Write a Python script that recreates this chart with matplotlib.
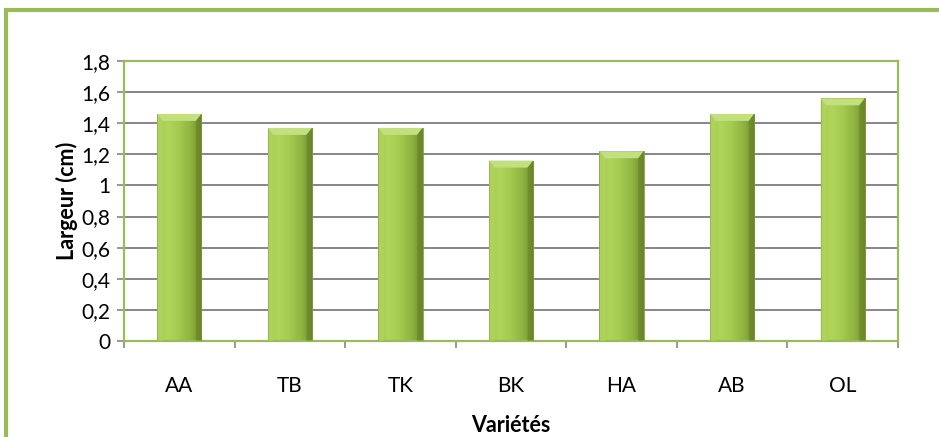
"""Bar chart of leaf width per variety, with bevelled green bars."""

import matplotlib

matplotlib.use("Agg")

import matplotlib.pyplot as plt
import numpy as np
from matplotlib.colors import LinearSegmentedColormap
from matplotlib.patches import Polygon, Rectangle

varieties = ["AA", "TB", "TK", "BK", "HA", "AB", "OL"]
largeur = [1.46, 1.37, 1.37, 1.16, 1.22, 1.46, 1.56]
y_ticks = [0, 0.2, 0.4, 0.6, 0.8, 1, 1.2, 1.4, 1.6, 1.8]
y_labels = ["0", "0,2", "0,4", "0,6", "0,8", "1", "1,2", "1,4", "1,6", "1,8"]

GREEN = "#9bbb59"
GRID = "#868686"
plt.rcParams["font.family"] = ["Lato", "DejaVu Sans"]

fig = plt.figure(figsize=(9.39, 4.37), dpi=100)
W, H = 939, 437

# outer frame, running off the right and bottom edges
fig.patches.append(Rectangle((5.5 / W, -0.1), 1.2, 1 - 9.5 / H + 0.1,
                             transform=fig.transFigure, fill=False,
                             ec=GREEN, lw=3.0))

ax = fig.add_axes([124 / W, 1 - 341 / H, 774 / W, 280 / H])

bar_cmap = LinearSegmentedColormap.from_list(
    "bar", ["#a6cc50", "#b0d55b", "#a3c94e", "#90b441", "#6f8e2d"])
grad = np.linspace(0, 1, 64)[None, :]
bw = 0.4
for i, v in enumerate(largeur):
    x0, x1 = i - bw / 2, i + bw / 2
    rect = Rectangle((x0, 0), bw, v, fc="none", ec="#7e9c3a", lw=0.6, zorder=3)
    ax.add_patch(rect)
    im = ax.imshow(grad, cmap=bar_cmap, extent=[x0, x1, 0, v],
                   aspect="auto", origin="lower", zorder=2,
                   interpolation="bilinear")
    im.set_clip_path(rect)
    # light bevel along the top of the bar
    dx, dy = 0.05, 0.045
    ax.add_patch(Polygon([(x0, v), (x1, v), (x1 - dx, v - dy), (x0 + dx, v - dy)],
                         closed=True, fc="#c3e07e", ec="none", zorder=3))
    ax.add_patch(Polygon([(x0, v), (x0 + dx, v - dy), (x0 + dx, 0), (x0, 0)],
                         closed=True, fc="#b4d668", ec="none", alpha=0.5, zorder=3))
    ax.add_patch(Polygon([(x1, v), (x1 - dx, v - dy), (x1 - dx, 0), (x1, 0)],
                         closed=True, fc="#5f7a25", ec="none", alpha=0.45, zorder=3))

ax.set_xlim(-0.5, len(varieties) - 0.5)
ax.set_ylim(0, 1.8)

ax.set_yticks(y_ticks)
ax.set_yticklabels(y_labels)
ax.yaxis.grid(True, color=GRID, lw=1.4)
ax.set_axisbelow(True)

ax.set_xticks(range(len(varieties)))
ax.set_xticklabels(varieties)
ax.set_xticks(np.arange(-0.5, len(varieties)), minor=True)
ax.tick_params(axis="x", which="major", length=0, pad=25, labelsize=15)
ax.tick_params(axis="x", which="minor", length=5, width=1.2, color=GRID,
               direction="out")
ax.tick_params(axis="y", length=5, width=1.2, color=GRID, pad=5, labelsize=15)

for s in ax.spines.values():
    s.set_color(GREEN)
    s.set_linewidth(1.6)

ax.set_ylabel("Largeur (cm)", fontsize=15.5, fontweight="bold", labelpad=2)
ax.set_xlabel("Variétés", fontsize=15.5, fontweight="bold", labelpad=14)

fig.savefig("out.png", dpi=100)
